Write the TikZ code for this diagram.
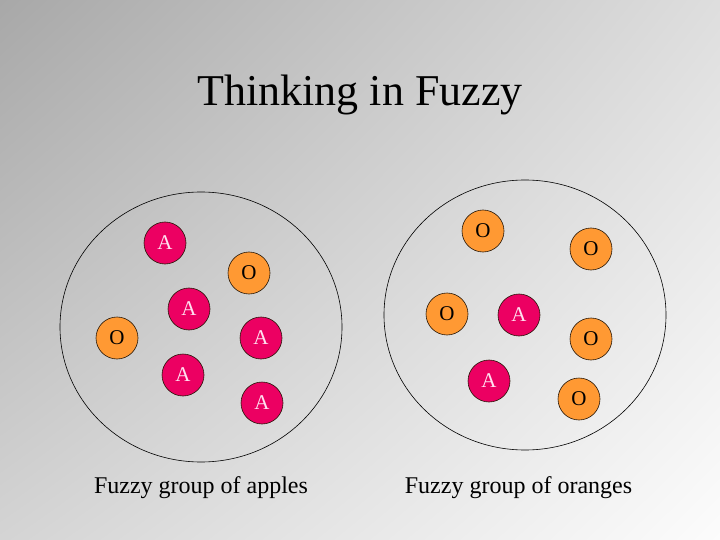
\documentclass[tikz,border=0pt]{standalone}
\usepackage{fontspec}
\setmainfont{Liberation Serif}
\usetikzlibrary{shapes.geometric,shadings}
\definecolor{applefill}{RGB}{236,0,98}
\definecolor{orangefill}{RGB}{255,153,51}
\definecolor{appletext}{RGB}{255,225,240}
\definecolor{bgUL}{RGB}{168,168,168}
\definecolor{bgUR}{RGB}{222,222,222}
\definecolor{bgLL}{RGB}{212,212,212}
\definecolor{bgLR}{RGB}{252,252,252}
\tikzset{
  fruit/.style={circle, draw=black!85!orangefill, line width=0.6pt, minimum size=42pt, inner sep=0pt, font=\fontsize{21}{21}\selectfont},
  apple/.style={fruit, fill=applefill, text=appletext},
  orange/.style={fruit, fill=orangefill, text=black},
  group/.style={ellipse, draw=black, line width=0.6pt, inner sep=0pt},
  caption/.style={font=\fontsize{24}{24}\selectfont, text=black}
}
\begin{document}
\begin{tikzpicture}[x=1pt,y=-1pt]
\useasboundingbox (0,0) rectangle (720,540);
\shade[upper left=bgUL, upper right=bgUR, lower left=bgLL, lower right=bgLR] (0,0) rectangle (720,540);
\node[font=\fontsize{44}{44}\selectfont] (title) at (360,95) {Thinking in Fuzzy};
\node[group, minimum width=282pt, minimum height=270pt] (gl) at (201,327) {};
\node[group, minimum width=282pt, minimum height=270pt] (gr) at (525,315) {};
% left group
\node[apple] (a1) at (165,243) {A};
\node[orange] (o1) at (249,273) {O};
\node[apple] (a2) at (189,309) {A};
\node[orange] (o2) at (117,338) {O};
\node[apple] (a3) at (261,338) {A};
\node[apple] (a4) at (183,375) {A};
\node[apple] (a5) at (262,403) {A};
% right group
\node[orange] (o3) at (483,231) {O};
\node[orange] (o4) at (591,249) {O};
\node[orange] (o5) at (447,314) {O};
\node[apple] (a6) at (519,315) {A};
\node[orange] (o6) at (591,339) {O};
\node[apple] (a7) at (489,381) {A};
\node[orange] (o7) at (579,399) {O};
\node[caption] (cl) at (201,488) {Fuzzy group of apples};
\node[caption] (cr) at (518.5,488) {Fuzzy group of oranges};
\end{tikzpicture}
\end{document}
